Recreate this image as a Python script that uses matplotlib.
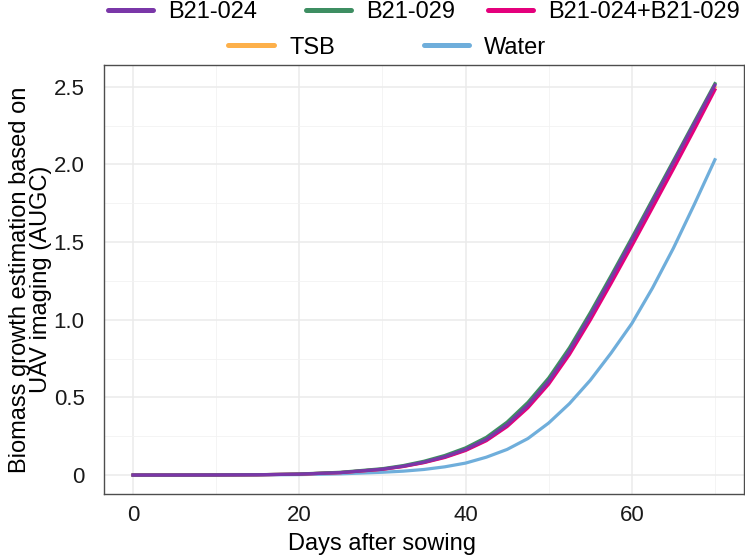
# Biomass growth curves (AUGC) per treatment
import numpy as np
import matplotlib
matplotlib.use('Agg')
import matplotlib.pyplot as plt
from matplotlib.lines import Line2D
from matplotlib.ticker import MultipleLocator

plt.rcParams['font.family'] = ['Liberation Sans', 'DejaVu Sans']

# Dados (dias apos semeadura)
dias = [0, 5, 10, 15, 20, 25, 30, 32.5, 35, 37.5, 40, 42.5, 45, 47.5, 50,
        52.5, 55, 57.5, 60, 62.5, 65, 67.5, 70]

b21_024 = [0, 0.0001, 0.0006, 0.002, 0.006, 0.016, 0.038, 0.057, 0.083, 0.118, 0.165, 0.23,
           0.325, 0.45, 0.605, 0.80, 1.025, 1.265, 1.51, 1.76, 2.01, 2.26, 2.51]
b21_029 = [0, 0.0001, 0.0007, 0.0022, 0.0068, 0.018, 0.041, 0.061, 0.089, 0.126, 0.175, 0.243,
           0.341, 0.468, 0.625, 0.82, 1.045, 1.283, 1.527, 1.775, 2.023, 2.272, 2.52]
b21_mix = [0, 0.0001, 0.0006, 0.002, 0.006, 0.016, 0.037, 0.055, 0.080, 0.113, 0.158, 0.221,
           0.312, 0.433, 0.585, 0.776, 0.997, 1.233, 1.475, 1.722, 1.97, 2.222, 2.48]
tsb = [0, 0.0001, 0.0006, 0.002, 0.006, 0.016, 0.0375, 0.056, 0.0815, 0.1155, 0.1615, 0.2255,
       0.3185, 0.4415, 0.595, 0.788, 1.011, 1.249, 1.4925, 1.741, 1.99, 2.241, 2.495]
agua = [0, 0.0001, 0.0003, 0.001, 0.003, 0.008, 0.018, 0.025, 0.036, 0.053, 0.077, 0.115,
        0.165, 0.235, 0.335, 0.46, 0.61, 0.785, 0.975, 1.205, 1.46, 1.74, 2.03]

nomes = ['B21-024', 'B21-029', 'B21-024+B21-029', 'TSB', 'Water']
cores = ['#7A37A8', '#3E8E62', '#E4007C', '#FDB04A', '#6FAEDB']
series = [b21_024, b21_029, b21_mix, tsb, agua]

W, H = 745, 560
fig = plt.figure(figsize=(W / 100, H / 100), dpi=100)
ax = fig.add_axes([104 / W, 66 / H, 640 / W, 429 / H])

# Ordem de desenho: Water embaixo, B21-024 por cima
for i in [4, 3, 2, 1, 0]:
    ax.plot(dias, series[i], color=cores[i], linewidth=2.3, zorder=3 + (4 - i))

ax.set_xlim(-3.5, 73.5)
ax.set_ylim(-0.122, 2.64)
ax.xaxis.set_major_locator(MultipleLocator(20))
ax.xaxis.set_minor_locator(MultipleLocator(10))
ax.yaxis.set_minor_locator(MultipleLocator(0.25))
ax.set_yticks([0, 0.5, 1.0, 1.5, 2.0, 2.5])
ax.set_yticklabels(['0', '0.5', '1.0', '1.5', '2.0', '2.5'])

ax.grid(True, which='major', color='#EBEBEB', linewidth=1.1, zorder=0)
ax.grid(True, which='minor', color='#F2F2F2', linewidth=0.6, zorder=0)
ax.set_axisbelow(True)
ax.tick_params(axis='both', which='both', length=0, labelsize=16, labelcolor='#1A1A1A')
ax.tick_params(axis='x', pad=8)
ax.tick_params(axis='y', pad=14)
for s in ax.spines.values():
    s.set_color('#4D4D4D')
    s.set_linewidth(1.0)

ax.set_xlabel('Days after sowing', fontsize=17)
ax.xaxis.set_label_coords(0.434, -0.09)
ax.set_ylabel('Biomass growth estimation based on\nUAV imaging (AUGC)', fontsize=17, linespacing=0.95)
ax.yaxis.set_label_coords(-0.081, 0.5)

# Legenda manual em duas linhas (posicoes em pixels da figura)
leg_x = [105, 303, 485, 226, 421]
leg_y = [10, 10, 10, 45, 45]
for nome, cor, x0, y0 in zip(nomes, cores, leg_x, leg_y):
    fig.add_artist(Line2D([(x0 + 2.5) / W, (x0 + 47.5) / W], [1 - y0 / H, 1 - y0 / H],
                          transform=fig.transFigure, color=cor, linewidth=3.6,
                          solid_capstyle='round'))
    fig.text((x0 + 63) / W, 1 - (y0 + 8.5) / H, nome, fontsize=17, va='baseline', ha='left')

plt.savefig('out.png', dpi=100, facecolor='white')
